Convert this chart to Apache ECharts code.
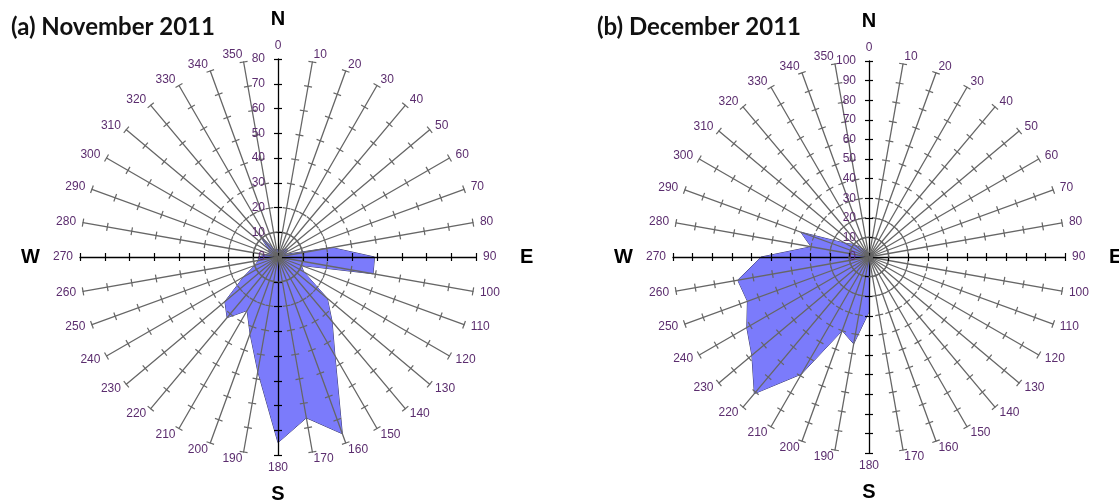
<!DOCTYPE html>
<html>
<head>
<meta charset="utf-8">
<script src="https://cdn.jsdelivr.net/npm/echarts@6/dist/echarts.min.js"></script>
<style>
  html, body { margin: 0; background: #fff; }
  #chart { width: 1119px; height: 504px; }
</style>
</head>
<body>
<div id="chart"></div>
<script>
// wind direction (degrees), one spoke every 10
const directions = [0, 10, 20, 30, 40, 50, 60, 70, 80, 90, 100, 110, 120, 130, 140, 150, 160, 170,
  180, 190, 200, 210, 220, 230, 240, 250, 260, 270, 280, 290, 300, 310, 320, 330, 340, 350];

// frequency per direction
const novemberValues = [3, 3, 3, 3, 4, 5, 4, 3, 22, 39, 39, 10, 12, 26, 34, 46, 76, 66,
  75, 47, 33, 25, 32, 28, 16, 10, 8, 8, 5, 4, 4, 5, 12, 4, 3, 3];
const decemberValues = [2, 2, 2, 2, 2, 2, 2, 2, 2, 2, 2, 2, 2, 2, 2, 2, 2, 3,
  28, 45, 40, 69, 91, 78, 72, 66, 68, 55, 30, 37, 14, 10, 6, 4, 3, 2];

const compassPoints = ['N', 'E', 'S', 'W'];
const titles = ['(a) November 2011', '(b) December 2011'];

const labelColor = '#5b2d6e';
const labelFont = 'Liberation Sans';

// radar lays its axes out counter-clockwise, wind roses go clockwise
const ccw = arr => arr.map((_, i) => arr[(arr.length - i) % arr.length]);

function spokes(max, first) {
  return ccw(directions).map((d, i) => ({
    name: String(d),
    min: 0,
    max: max,
    color: labelColor,
    axisLine: { lineStyle: { color: d % 90 === 0 ? '#000' : '#666' } },
    axisLabel: { show: first && i === 0 }
  }));
}

function radars(center, radius, max) {
  const base = {
    center: center,
    radius: radius,
    startAngle: 90,
    shape: 'circle',
    splitNumber: max / 10,
    splitLine: { show: false },
    splitArea: { show: false },
    z: 3
  };
  return [
    Object.assign({}, base, {
      indicator: spokes(max, true),
      nameGap: 7,
      axisName: { color: labelColor, fontSize: 12, fontFamily: labelFont },
      axisLine: { show: true, lineStyle: { width: 1.3 } },
      axisTick: { show: true, length: 4, lineStyle: { width: 1.2 } },
      axisLabel: { show: true, color: labelColor, fontSize: 12, fontFamily: labelFont, margin: 13 }
    }),
    // second copy only to put the tick marks on the other side of each spoke
    Object.assign({}, base, {
      indicator: spokes(max, false),
      axisName: { show: false },
      axisLine: { show: false, lineStyle: { width: 1 } },
      axisTick: { show: true, length: -4, lineStyle: { width: 1.2 } },
      axisLabel: { show: false }
    }),
    Object.assign({}, base, {
      indicator: ccw(compassPoints).map(p => ({
        name: p, min: 0, max: 1,
        nameGap: p === 'N' ? 30 : p === 'S' ? 29 : p === 'E' ? 44 : 40
      })),
      splitNumber: 1,
      axisName: { color: '#000', fontSize: 20, fontWeight: 'bold', fontFamily: labelFont },
      axisLine: { show: false },
      axisTick: { show: false },
      axisLabel: { show: false }
    })
  ];
}

const titleStyle = { fontFamily: 'Lato', fontWeight: 'bold', fontSize: 24, color: '#111' };

const option = {
  animation: false,
  backgroundColor: '#fff',
  textStyle: { fontFamily: labelFont },
  title: [
    { text: titles[0], left: 6, top: 10, textStyle: titleStyle },
    { text: titles[1], left: 592, top: 10, textStyle: titleStyle }
  ],
  radar: radars([278, 257], 198, 80).concat(radars([869, 257], 196, 100)),
  series: [
    { values: novemberValues, radarIndex: 0 },
    { values: decemberValues, radarIndex: 3 }
  ].map(s => ({
    type: 'radar',
    radarIndex: s.radarIndex,
    z: 1,
    symbol: 'none',
    lineStyle: { color: '#3a3a66', width: 1 },
    areaStyle: { color: '#7b7bfb', opacity: 1 },
    data: [{ value: ccw(s.values) }]
  }))
};

const chart = echarts.init(document.getElementById('chart'));
chart.setOption(option);
</script>
</body>
</html>
